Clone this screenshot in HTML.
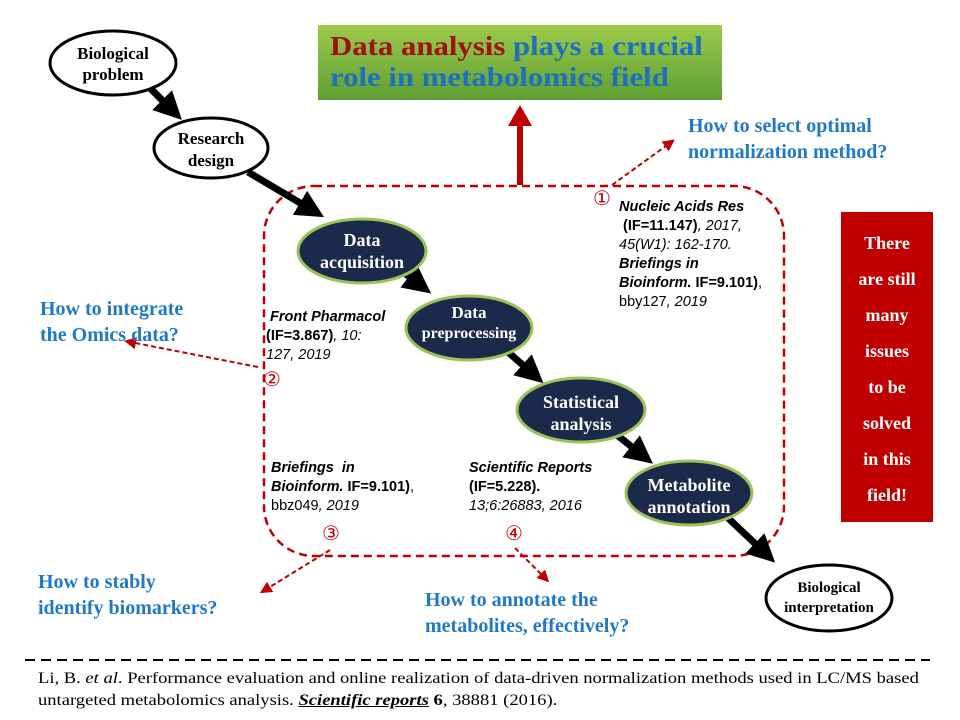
<!DOCTYPE html>
<html><head><meta charset="utf-8"><style>
body{margin:0;width:960px;height:720px;background:#fff;position:relative;overflow:hidden;font-family:"Liberation Serif",serif}
.a{position:absolute;margin:0}
.q{color:#1f78c8;font-weight:bold;font-size:20px;line-height:26px}
.ref{font-family:"Liberation Sans",sans-serif;font-size:14.5px;line-height:19px;color:#000}
.red{color:#c00000;font-size:20px}
</style></head><body>
<svg class="a" style="left:0;top:0" width="960" height="720">
<defs>
<marker id="bk" markerWidth="4" markerHeight="4" refX="2" refY="2" orient="auto"><path d="M0,0L4,2L0,4z" fill="#000"/></marker>
<marker id="rd" markerWidth="6" markerHeight="6" refX="3" refY="3" orient="auto"><path d="M0,0L6,3L0,6z" fill="#c00000"/></marker>
<marker id="rb" markerWidth="3.5" markerHeight="4" refX="1" refY="2" orient="auto"><path d="M0,0L3.5,2L0,4z" fill="#c00000"/></marker>
<linearGradient id="g" x1="0" y1="0" x2="0" y2="1"><stop offset="0" stop-color="#9ccb4a"/><stop offset="1" stop-color="#5e9e33"/></linearGradient>
</defs>
<rect x="264" y="186" width="520" height="370" rx="50" fill="none" stroke="#c00000" stroke-width="2.5" stroke-dasharray="8,5"/>
<line x1="520" y1="185" x2="520" y2="120" stroke="#c00000" stroke-width="6" marker-end="url(#rb)"/>
<g stroke="#000" stroke-width="7" marker-end="url(#bk)">
<line x1="150" y1="88" x2="172" y2="110"/>
<line x1="248" y1="172" x2="312" y2="210"/>
<line x1="398" y1="268" x2="420" y2="285"/>
<line x1="508" y1="352" x2="533" y2="374"/>
<line x1="617" y1="435" x2="642" y2="455"/>
<line x1="728" y1="518" x2="765" y2="553"/>
</g>
<g stroke="#c00000" stroke-width="2" stroke-dasharray="5,3" fill="none">
<line x1="612" y1="185" x2="670" y2="143" marker-end="url(#rd)"/>
<line x1="258" y1="367" x2="130" y2="342" marker-end="url(#rd)"/>
<line x1="330" y1="550" x2="265" y2="590" marker-end="url(#rd)"/>
<line x1="515" y1="548" x2="545" y2="578" marker-end="url(#rd)"/>
</g>
<ellipse cx="113" cy="63" rx="63" ry="32" fill="#fff" stroke="#000" stroke-width="3"/>
<ellipse cx="211" cy="148" rx="57" ry="30" fill="#fff" stroke="#000" stroke-width="3"/>
<g fill="#1b2a4a" stroke="#9cc25a" stroke-width="3">
<ellipse cx="362" cy="251" rx="64" ry="32"/>
<ellipse cx="469" cy="328" rx="63" ry="32"/>
<ellipse cx="581" cy="410" rx="64" ry="32"/>
<ellipse cx="689" cy="493" rx="63" ry="32"/>
</g>
<ellipse cx="829" cy="598" rx="63" ry="33" fill="#fff" stroke="#000" stroke-width="3"/>
<rect x="318" y="25" width="404" height="75" fill="url(#g)"/>
<rect x="841" y="212" width="92" height="310" fill="#c00000"/>
<line x1="25" y1="660" x2="930" y2="660" stroke="#000" stroke-width="2" stroke-dasharray="10,6"/>
<g font-family="Liberation Serif,serif" font-size="18" font-weight="bold" text-anchor="middle">
<text x="113" y="59" font-size="17">Biological</text><text x="113" y="80" font-size="17">problem</text>
<text x="211" y="144" font-size="17">Research</text><text x="211" y="166" font-size="17">design</text>
<g fill="#fff"><text x="362" y="246">Data</text><text x="362" y="268">acquisition</text>
<text x="469" y="318" font-size="17">Data</text><text x="469" y="338" font-size="16">preprocessing</text>
<text x="581" y="408">Statistical</text><text x="581" y="430">analysis</text>
<text x="689" y="491">Metabolite</text><text x="689" y="513">annotation</text></g>
<text x="829" y="592" font-size="15">Biological</text><text x="829" y="612" font-size="15">interpretation</text>
</g>
<g font-family="Liberation Serif,serif" font-size="18" font-weight="bold" fill="#fff" text-anchor="middle">
<text x="887" y="249">There</text><text x="887" y="285">are still</text><text x="887" y="321">many</text><text x="887" y="357">issues</text><text x="887" y="393">to be</text><text x="887" y="429">solved</text><text x="887" y="465">in this</text><text x="887" y="501">field!</text>
</g>
</svg>
<div class="a" style="left:330px;top:31px;font-size:27px;line-height:31px;color:#1f6fbf;font-weight:bold;transform:scaleX(1.14);transform-origin:0 0;white-space:nowrap"><span style="color:#a01010">Data analysis</span> plays a crucial<br>role in metabolomics field</div>
<div class="a q" style="left:688px;top:113px">How to select optimal<br>normalization method?</div>
<div class="a q" style="left:40px;top:296px">How to integrate<br>the Omics data?</div>
<div class="a q" style="left:38px;top:569px">How to stably<br>identify biomarkers?</div>
<div class="a q" style="left:425px;top:587px">How to annotate the<br>metabolites, effectively?</div>
<div class="a red" style="left:593px;top:186px">①</div>
<div class="a red" style="left:263px;top:367px">②</div>
<div class="a red" style="left:322px;top:521px">③</div>
<div class="a red" style="left:505px;top:521px">④</div>
<div class="a ref" style="left:619px;top:198px"><b><i>Nucleic Acids Res</i></b><br>&nbsp;<b>(IF=11.147)</b><i>, 2017,</i><br><i>45(W1): 162-170.</i><br><b><i>Briefings in</i></b><br><b><i>Bioinform.</i> IF=9.101)</b>,<br>bby127<i>, 2019</i></div>
<div class="a ref" style="left:266px;top:308px">&nbsp;<b><i>Front Pharmacol</i></b><br><b>(IF=3.867)</b><i>, 10:</i><br><i>127, 2019</i></div>
<div class="a ref" style="left:271px;top:459px"><b><i>Briefings &nbsp;in</i></b><br><b><i>Bioinform.</i> IF=9.101)</b>,<br>bbz049<i>, 2019</i></div>
<div class="a ref" style="left:469px;top:459px"><b><i>Scientific Reports</i></b><br><b>(IF=5.228).</b><br><i>13;6:26883, 2016</i></div>
<div class="a" style="left:38px;top:668px;font-size:16px;line-height:22px;transform:scaleX(1.16);transform-origin:0 0;white-space:nowrap">Li, B. <i>et al</i>. Performance evaluation and online realization of data-driven normalization methods used in LC/MS based<br>untargeted metabolomics analysis. <b><i><u>Scientific reports</u></i> 6</b>, 38881 (2016).</div>
</body></html>
